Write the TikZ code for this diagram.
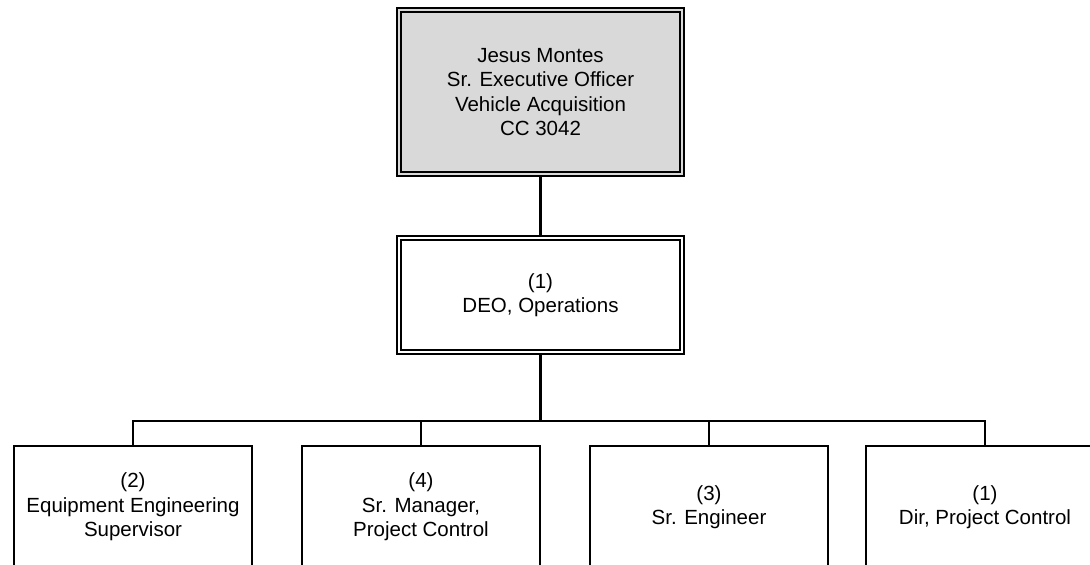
\documentclass[tikz,border=0pt]{standalone}
\usepackage{fontspec}
\setmainfont{Liberation Sans}
\usetikzlibrary{positioning}
\definecolor{boxgray}{RGB}{217,217,217}

\begin{document}
\begin{tikzpicture}[x=1pt, y=-1pt,
    post/.style={rectangle, draw=black, line width=2pt, fill=white, inner sep=0pt,
                 minimum width=238pt, minimum height=122pt, align=center,
                 font=\fontsize{20.5}{24.4}\selectfont},
    head/.style={post, double, double distance=2.6pt, line width=1.7pt, outer sep=3pt,
                 minimum width=283pt},
    link/.style={line width=2.2pt, black}
]
\useasboundingbox (0,0) rectangle (1090,565);
\clip (0,0) rectangle (1090,565);
\node[head, fill=boxgray, double=boxgray, minimum height=164pt] (ceo) at (540.5,92)
    {Jesus Montes\\Sr. Executive Officer\\Vehicle Acquisition\\CC 3042};
\node[head, double=white, minimum height=114pt, below=58pt of ceo] (deo) {(1)\\DEO, Operations};
\node[post] (eng) at (133,507) {(2)\\Equipment Engineering\\Supervisor};
\node[post, right=48pt of eng] (mgr) {(4)\\Sr. Manager,\\Project Control};
\node[post, right=48pt of mgr] (sre) {(3)\\Sr. Engineer};
\node[post, right=36pt of sre] (dir) {(1)\\Dir, Project Control};
\coordinate[above=24pt of eng.north] (bus);

\draw[link] (ceo) -- (deo);
\draw[link] (deo.south) -- (deo.south |- bus);
\draw[link] (eng.north) -- (bus) -| (dir.north);
\draw[link] (mgr.north) -- (mgr.north |- bus);
\draw[link] (sre.north) -- (sre.north |- bus);
\end{tikzpicture}
\end{document}
